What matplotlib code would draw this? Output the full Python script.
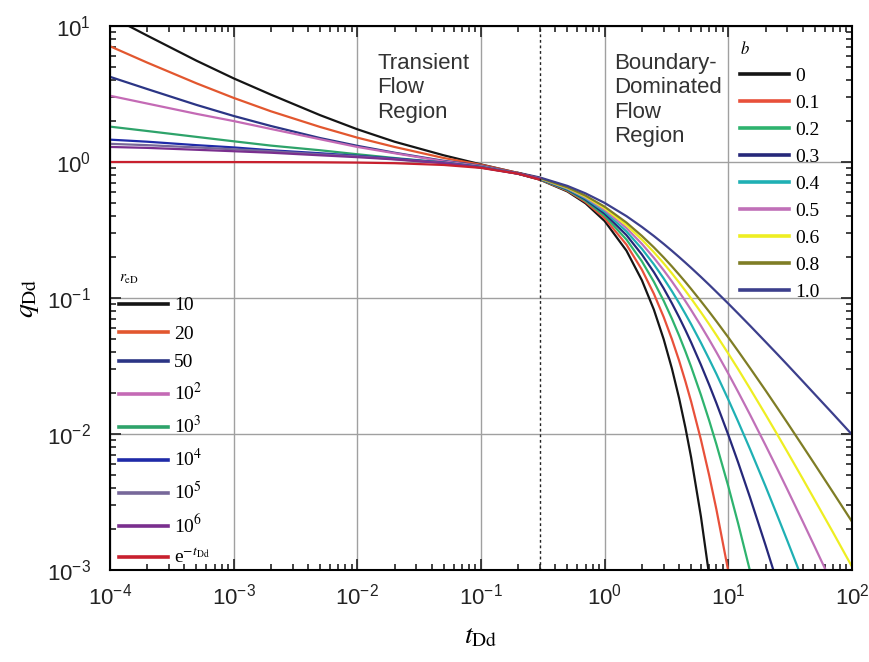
import matplotlib
matplotlib.use("Agg")
import matplotlib.pyplot as plt
from matplotlib.font_manager import FontProperties

plt.rcParams["font.family"] = "Liberation Sans"
plt.rcParams["mathtext.fontset"] = "custom"
plt.rcParams["mathtext.rm"] = "Liberation Sans"
plt.rcParams["mathtext.it"] = "Liberation Sans:italic"

# transient stems, t_Dd up to the 0.3 boundary
t_early = [1e-4, 2e-4, 5e-4, 1e-3, 2e-3, 5e-3, 1e-2, 2e-2, 5e-2, 0.1, 0.2, 0.3]
q_re10 = [11.8, 8.5, 5.56, 4.12, 3.13, 2.21, 1.74, 1.41, 1.12, 0.96, 0.83, 0.755]
q_re20 = [7.1, 5.38, 3.79, 2.96, 2.36, 1.81, 1.51, 1.29, 1.07, 0.955, 0.83, 0.755]
q_re50 = [4.23, 3.44, 2.63, 2.18, 1.84, 1.50, 1.315, 1.17, 1.02, 0.94, 0.825, 0.755]
q_re1e2 = [3.07, 2.69, 2.26, 2.0, 1.75, 1.47, 1.29, 1.16, 1.01, 0.933, 0.822, 0.755]
q_re1e3 = [1.82, 1.69, 1.53, 1.42, 1.32, 1.22, 1.14, 1.07, 0.99, 0.923, 0.82, 0.75]
q_re1e4 = [1.46, 1.41, 1.33, 1.28, 1.22, 1.16, 1.11, 1.06, 0.99, 0.916, 0.82, 0.75]
q_re1e5 = [1.36, 1.33, 1.28, 1.24, 1.2, 1.14, 1.1, 1.05, 0.985, 0.912, 0.82, 0.75]
q_re1e6 = [1.29, 1.27, 1.23, 1.2, 1.17, 1.12, 1.085, 1.045, 0.98, 0.91, 0.82, 0.75]
q_exp = [1.0, 1.0, 0.9995, 0.999, 0.998, 0.995, 0.99, 0.98, 0.951, 0.905, 0.819, 0.741]

re_labels = ["10", "20", "50", r"10$^{2}$", r"10$^{3}$", r"10$^{4}$", r"10$^{5}$",
             r"10$^{6}$", r"e$^{-t_{\mathrm{Dd}}}$"]
re_colors = ["#151515", "#e2572f", "#2b3585", "#c46ab5", "#2ea36a", "#1f2aa8",
             "#77689a", "#7a2f8e", "#c8202e"]
re_series = [q_re10, q_re20, q_re50, q_re1e2, q_re1e3, q_re1e4, q_re1e5, q_re1e6, q_exp]

# boundary-dominated stems
t_late = [0.2, 0.3, 0.5, 0.7, 1, 1.5, 2, 2.5, 3, 3.5, 4, 4.5, 5, 6, 7, 8, 10, 12, 15,
          20, 25, 30, 40, 50, 70, 100]
q_b00 = [0.819, 0.741, 0.607, 0.497, 0.368, 0.223, 0.135, 0.0821, 0.0498, 0.0302,
         0.0183, 0.0111, 0.00674, 0.00248, 0.000912, 0.000335]
q_b01 = [0.820, 0.744, 0.614, 0.508, 0.386, 0.247, 0.1615, 0.1074, 0.0725, 0.0497,
         0.0346, 0.0243, 0.01734, 0.0091, 0.00496, 0.0028, 0.000977, 0.000376]
q_b02 = [0.822, 0.747, 0.621, 0.519, 0.402, 0.269, 0.186, 0.1317, 0.0954, 0.0704,
         0.0529, 0.0404, 0.03125, 0.0194, 0.01256, 0.00842, 0.00412, 0.0022,
         0.000977, 0.00032]
q_b03 = [0.823, 0.750, 0.628, 0.530, 0.417, 0.290, 0.2087, 0.1548, 0.1177, 0.0913,
         0.0722, 0.0580, 0.0472, 0.0323, 0.0230, 0.0169, 0.00984, 0.00618, 0.0034,
         0.00152, 0.000798]
q_b04 = [0.825, 0.753, 0.634, 0.540, 0.431, 0.309, 0.230, 0.1768, 0.1393, 0.1121,
         0.0918, 0.0762, 0.0642, 0.0469, 0.0355, 0.0277, 0.0179, 0.01234, 0.00772,
         0.00412, 0.00249, 0.00164, 0.000839]
q_b05 = [0.826, 0.756, 0.640, 0.549, 0.444, 0.327, 0.25, 0.1975, 0.16, 0.1322, 0.111,
         0.0947, 0.0816, 0.0625, 0.0494, 0.04, 0.0278, 0.0204, 0.01384, 0.00826,
         0.00549, 0.00391, 0.00227, 0.00148, 0.000772]
q_b06 = [0.828, 0.759, 0.646, 0.557, 0.457, 0.343, 0.269, 0.2172, 0.180, 0.1517,
         0.130, 0.1130, 0.0992, 0.0786, 0.0641, 0.0534, 0.0390, 0.0300, 0.0215,
         0.0139, 0.00984, 0.00739, 0.00468, 0.00327, 0.00190, 0.001058]
q_b08 = [0.829, 0.762, 0.651, 0.566, 0.469, 0.3585, 0.286, 0.2357, 0.1987, 0.1705,
         0.1485, 0.1310, 0.1166, 0.0948, 0.0792, 0.0675, 0.0513, 0.0407, 0.0305,
         0.0209, 0.01548, 0.01209, 0.00814, 0.00598, 0.00374, 0.002266]
q_b10 = [0.833, 0.769, 0.667, 0.588, 0.5, 0.4, 0.333, 0.2857, 0.25, 0.2222, 0.2,
         0.1818, 0.1667, 0.1429, 0.125, 0.111, 0.0909, 0.0769, 0.0625, 0.0476,
         0.0385, 0.0323, 0.0244, 0.0196, 0.0141, 0.0099]

b_labels = ["0", "0.1", "0.2", "0.3", "0.4", "0.5", "0.6", "0.8", "1.0"]
b_colors = ["#151515", "#e8503a", "#2eb36e", "#26287a", "#1fb0b4", "#c070b8",
            "#eeee22", "#7f7d25", "#3c3f8c"]
b_series = [q_b00, q_b01, q_b02, q_b03, q_b04, q_b05, q_b06, q_b08, q_b10]

x_ticks = [1e-4, 1e-3, 1e-2, 1e-1, 1e0, 1e1, 1e2]
x_ticklabels = [r"$10^{-4}$", r"$10^{-3}$", r"$10^{-2}$", r"$10^{-1}$", r"$10^{0}$",
                r"$10^{1}$", r"$10^{2}$"]
y_ticks = [1e-3, 1e-2, 1e-1, 1e0, 1e1]
y_ticklabels = [r"$10^{-3}$", r"$10^{-2}$", r"$10^{-1}$", r"$10^{0}$", r"$10^{1}$"]
t_boundary = 0.3

fig = plt.figure(figsize=(8.7, 6.62), dpi=100)
ax = fig.add_axes([110 / 870, 1 - 570 / 662, 742 / 870, 544 / 662])

b_lines = []
for q, c, lab in zip(b_series, b_colors, b_labels):
    (ln,) = ax.plot(t_late[:len(q)], q, color=c, lw=1.6, label=lab)
    b_lines.append(ln)

re_lines = []
for q, c, lab in zip(re_series, re_colors, re_labels):
    (ln,) = ax.plot(t_early[:len(q)], q, color=c, lw=1.6, label=lab)
    re_lines.append(ln)

ax.axvline(t_boundary, color="#222222", lw=1.0, ls=(0, (2, 2)))

ax.set_xscale("log")
ax.set_yscale("log")
ax.set_xlim(1e-4, 1e2)
ax.set_ylim(1e-3, 1e1)
ax.set_xticks(x_ticks)
ax.set_xticklabels(x_ticklabels)
ax.set_yticks(y_ticks)
ax.set_yticklabels(y_ticklabels)
ax.grid(True, which="major", color="#a0a0a0", lw=1.0)
ax.set_axisbelow(True)
ax.tick_params(which="both", direction="in", top=True, right=True, width=1.2,
               colors="#222222", labelsize=16)
ax.tick_params(which="major", length=8)
ax.tick_params(which="minor", length=4)
ax.tick_params(axis="x", pad=10)
ax.tick_params(axis="y", pad=14)
for s in ax.spines.values():
    s.set_linewidth(1.5)

ax.set_xlabel(r"$t_{\mathrm{Dd}}$", fontsize=20, math_fontfamily="stix", labelpad=10)
ax.set_ylabel(r"$q_{\mathrm{Dd}}$", fontsize=20, math_fontfamily="stix", labelpad=4)

ax.text(0.36, 0.95, "Transient\nFlow\nRegion", transform=ax.transAxes,
        fontsize=16, color="#333333", va="top", ha="left", linespacing=1.2)
ax.text(0.679, 0.95, "Boundary-\nDominated\nFlow\nRegion", transform=ax.transAxes,
        fontsize=16, color="#333333", va="top", ha="left", linespacing=1.2)

leg_font = FontProperties(family="Liberation Serif", size=14, math_fontfamily="stix")

leg_re = ax.legend(re_lines, re_labels, loc="upper left",
                   bbox_to_anchor=(0.012, 0.548), frameon=False, prop=leg_font,
                   title=r"$r_{\mathrm{eD}}$", title_fontproperties=FontProperties(
                       family="Liberation Serif", size=11, math_fontfamily="stix"),
                   alignment="left", borderpad=0, borderaxespad=0,
                   handlelength=2.5, handletextpad=0.35, labelspacing=0.56)
for h in leg_re.legend_handles:
    h.set_linewidth(2.6)
ax.add_artist(leg_re)

leg_b = ax.legend(b_lines, b_labels, loc="upper left",
                  bbox_to_anchor=(0.849, 0.972), frameon=False, prop=leg_font,
                  title="$b$", title_fontproperties=FontProperties(
                      family="Liberation Serif", size=12, math_fontfamily="stix"),
                  alignment="left", borderpad=0, borderaxespad=0,
                  handlelength=2.5, handletextpad=0.35, labelspacing=0.48)
for h in leg_b.legend_handles:
    h.set_linewidth(2.6)

fig.savefig("out.png", dpi=100)
